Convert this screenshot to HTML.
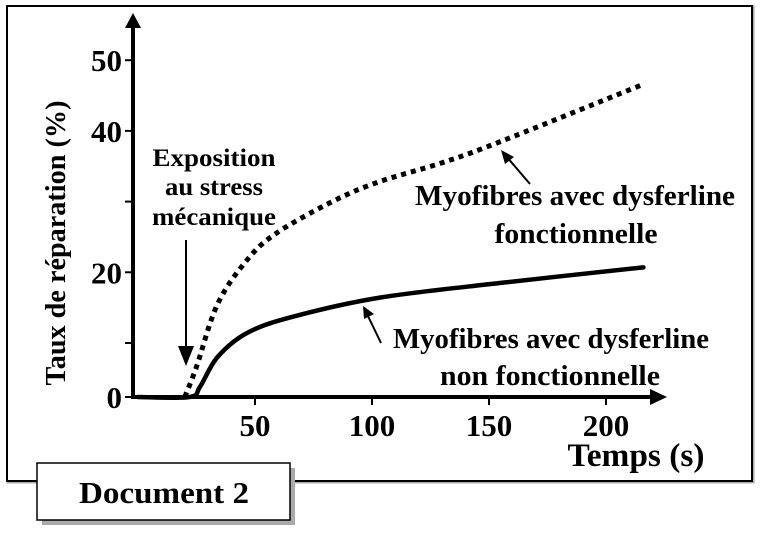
<!DOCTYPE html>
<html><head><meta charset="utf-8"><style>
body{margin:0;background:#fff}
svg{display:block;font-family:"Liberation Serif",serif;font-weight:bold}
</style></head><body>
<svg width="760" height="547" viewBox="0 0 760 547">
<rect x="8" y="7" width="745" height="475" fill="none" stroke="#aaa" stroke-width="3"/>
<rect x="7" y="6" width="745" height="475" fill="#fff" stroke="#000" stroke-width="2"/>
<g id="axes"></g>
<g id="series"></g>
<text x="55" y="243" font-size="28" text-anchor="middle" textLength="285" lengthAdjust="spacingAndGlyphs" transform="rotate(-90 55 243)" dy="10">Taux de réparation (%)</text>
<text x="636" y="466" font-size="33" text-anchor="middle" textLength="137" lengthAdjust="spacingAndGlyphs">Temps (s)</text>
<g>
<text x="214" y="166" font-size="25" text-anchor="middle" textLength="123" lengthAdjust="spacingAndGlyphs">Exposition</text>
<text x="214" y="195" font-size="25" text-anchor="middle" textLength="98" lengthAdjust="spacingAndGlyphs">au stress</text>
<text x="214" y="225" font-size="25" text-anchor="middle" textLength="124" lengthAdjust="spacingAndGlyphs">mécanique</text>
<line x1="186" y1="240" x2="186" y2="348" stroke="#000" stroke-width="2"/>
<polygon points="178,346 194,346 186,366" fill="#000"/>
</g>
<g>
<line x1="530" y1="184" x2="506" y2="156" stroke="#000" stroke-width="2"/>
<polygon points="501,150 514,157 505,164" fill="#000"/>
<text x="575" y="205" font-size="28" text-anchor="middle" textLength="320" lengthAdjust="spacingAndGlyphs">Myofibres avec dysferline</text>
<text x="576" y="243" font-size="28" text-anchor="middle" textLength="163" lengthAdjust="spacingAndGlyphs">fonctionnelle</text>
</g>
<g>
<line x1="381" y1="343" x2="367" y2="314" stroke="#000" stroke-width="2"/>
<polygon points="363,306 374,314 364,319" fill="#000"/>
<text x="551" y="348" font-size="28" text-anchor="middle" textLength="316" lengthAdjust="spacingAndGlyphs">Myofibres avec dysferline</text>
<text x="550" y="385" font-size="28" text-anchor="middle" textLength="220" lengthAdjust="spacingAndGlyphs">non fonctionnelle</text>
</g>
<rect x="42" y="468" width="253" height="57" fill="#aaa"/>
<rect x="37" y="463" width="253" height="57" fill="#fff" stroke="#000" stroke-width="1.5"/>
<text x="164" y="503" font-size="31" text-anchor="middle" textLength="170" lengthAdjust="spacingAndGlyphs">Document 2</text>
</svg>
<script>
const xTicks=[50,100,150,200];
const yTicks=[0,10,20,30,40,50];
const yLabelValues=[0,20,40,50];
const tFunctional=[20,25,34,46.5,59,83,103,130,155,216];
const vFunctional=[0,5.6,15.5,21.7,25.5,30,32.8,35.5,38.5,46.6];
const tNonFunctional=[0,22,26.5,34,46.5,66,103,155,216];
const vNonFunctional=[0,0,1.9,7.4,11.4,13.7,16.4,18.5,20.7];
const NS="http://www.w3.org/2000/svg";
function xs(t){return 138+2.34*t;}
function ys(v){return v<=10?397-5.4*v:343-(v-10)*7.07;}
function mk(tag,attrs,parent){const e=document.createElementNS(NS,tag);for(const k in attrs)e.setAttribute(k,attrs[k]);parent.appendChild(e);return e;}
const ax=document.getElementById('axes');
let yl=mk('line',{x1:133,y1:399,x2:133,y2:22,stroke:'#000','stroke-width':4},ax);


let ya=mk('polygon',{points:'125,28 141,28 133,13',fill:'#000'},ax);


let xl=mk('line',{x1:131,y1:397,x2:655,y2:397,stroke:'#000','stroke-width':4},ax);


let xa=mk('polygon',{points:'650,389 650,405 667,397',fill:'#000'},ax);


yTicks.forEach(v=>{
 let tk=mk('line',{x1:125,y1:ys(v),x2:133,y2:ys(v),stroke:'#000','stroke-width':2},ax);
 
 
});
yLabelValues.forEach(v=>{
 let t=mk('text',{x:122,y:ys(v)+11,'font-size':31,'text-anchor':'end'},ax);
 t.textContent=String(v);
 
 
});
xTicks.forEach(v=>{
 let tk=mk('line',{x1:xs(v),y1:397,x2:xs(v),y2:405,stroke:'#000','stroke-width':2},ax);
 
 
 let t=mk('text',{x:xs(v),y:436,'font-size':31,'text-anchor':'middle'},ax);
 t.textContent=String(v);
 
 
});
function pathD(ts,vs){
 const p=ts.map((t,i)=>[xs(t),ys(vs[i])]);
 let d='M'+p[0][0]+','+p[0][1];
 for(let i=0;i<p.length-1;i++){
  const p0=p[i-1]||p[i],p1=p[i],p2=p[i+1],p3=p[i+2]||p2;
  const c1=[p1[0]+(p2[0]-p0[0])/6,p1[1]+(p2[1]-p0[1])/6];
  const c2=[p2[0]-(p3[0]-p1[0])/6,p2[1]-(p3[1]-p1[1])/6];
  d+=' C'+c1+' '+c2+' '+p2;
 }
 return d;
}
const sg=document.getElementById('series');
let s1=mk('path',{d:pathD(tFunctional,vFunctional),fill:'none',stroke:'#000','stroke-width':5,'stroke-dasharray':'5 5'},sg);


let s2=mk('path',{d:pathD(tNonFunctional,vNonFunctional),fill:'none',stroke:'#000','stroke-width':4.5,'stroke-linecap':'round'},sg);


</script>
</body></html>
